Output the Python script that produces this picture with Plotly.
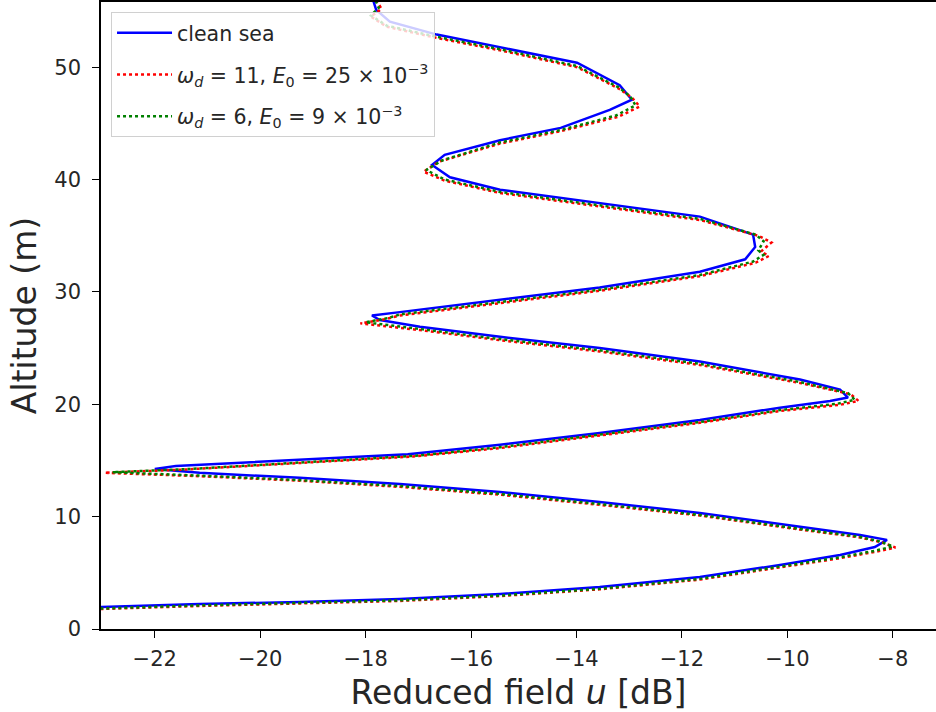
import plotly.graph_objects as go

# Altitude (m) and reduced field u (dB)
alt_clean = [1.75, 1.96, 2.23, 2.40, 2.67, 3.12, 3.74, 4.63, 5.70, 6.59, 7.30, 7.93,
             8.37, 9.08, 10.33, 11.31, 12.20, 12.91, 13.45, 13.90, 14.25, 14.50,
             14.80, 15.15, 15.55, 16.40, 17.45, 18.60, 19.70, 20.30, 20.60, 21.30, 22.20,
             23.80, 25.00, 26.00, 26.90, 27.50, 27.90, 28.20, 29.30, 30.40, 31.80,
             32.90, 34.00, 35.10, 36.70, 37.90, 39.10, 40.20, 41.30, 42.20, 43.50,
             44.60, 46.20, 47.10, 48.40, 50.40, 51.80, 52.90, 54.05, 55.10, 56.00]
u_clean = [-23.60, -23.02, -21.15, -19.25, -17.35, -15.45, -13.56, -11.66, -10.14, -9.00, -8.34, -8.11,
           -8.62, -9.76, -11.66, -13.56, -15.45, -17.35, -19.25, -21.15, -22.00, -21.60,
           -20.40, -18.90, -17.20, -15.45, -13.56, -11.66, -10.14, -9.19, -8.85, -9.00, -9.76,
           -11.66, -13.56, -15.45, -16.97, -17.73, -17.88, -17.35, -15.45, -13.56, -11.66,
           -10.80, -10.61, -10.65, -11.66, -13.56, -15.45, -16.40, -16.74, -16.50, -15.45,
           -14.30, -13.37, -12.95, -13.18, -13.99, -15.45, -16.65, -17.54, -17.80, -17.86]

alt_w11 = [1.60, 1.78, 2.05, 2.25, 2.50, 2.93, 3.53, 4.40, 5.45, 6.30, 6.90, 7.25,
           7.70, 8.15, 8.85, 10.10, 11.05, 11.95, 12.65, 13.20, 13.60, 13.90,
           14.20, 14.60, 15.00, 15.35, 16.10, 17.20, 18.35, 19.40, 19.95, 20.30, 20.90,
           21.90, 23.50, 24.70, 25.70, 26.60, 27.20, 27.60, 27.90, 29.00, 30.10,
           31.40, 32.60, 33.20, 33.60, 34.40, 35.00, 36.40, 37.60, 38.80, 39.90,
           40.70, 41.60, 43.20, 44.30, 45.60, 46.50, 47.30, 48.10, 50.00, 51.50,
           52.60, 53.60, 54.50, 55.20, 56.00]
u_w11 = [-23.60, -23.02, -21.15, -19.25, -17.35, -15.45, -13.56, -11.66, -10.14, -9.00, -8.30, -7.95,
         -8.20, -8.62, -9.76, -11.66, -13.56, -15.45, -17.35, -19.25, -21.15, -22.95,
         -21.40, -19.90, -18.40, -17.10, -15.45, -13.56, -11.66, -10.14, -9.00, -8.65, -8.80,
         -9.76, -11.66, -13.56, -15.45, -16.97, -18.10, -17.60, -17.35, -15.45, -13.56,
         -11.66, -10.60, -10.35, -10.50, -10.30, -10.55, -11.66, -13.56, -15.45, -16.50,
         -16.90, -16.60, -15.45, -14.30, -13.20, -12.80, -12.95, -13.20, -13.99, -15.45,
         -16.65, -17.60, -17.90, -17.70, -17.80]

alt_w6 = [1.62, 1.82, 2.10, 2.30, 2.55, 2.98, 3.58, 4.46, 5.52, 6.38, 6.98, 7.35,
          7.80, 8.22, 8.92, 10.15, 11.12, 12.02, 12.72, 13.25, 13.65, 13.95,
          14.25, 14.65, 15.05, 15.42, 16.18, 17.28, 18.42, 19.48, 20.05, 20.40, 21.00,
          22.00, 23.60, 24.80, 25.80, 26.70, 27.30, 27.70, 28.00, 29.10, 30.20,
          31.50, 32.70, 33.30, 33.70, 34.50, 35.10, 36.50, 37.70, 38.90, 40.00,
          40.85, 41.70, 43.30, 44.40, 45.70, 46.60, 47.40, 48.20, 50.10, 51.60,
          52.70, 53.70, 54.60, 55.30, 56.00]
u_w6 = [-23.60, -23.02, -21.15, -19.25, -17.35, -15.45, -13.56, -11.66, -10.14, -9.00, -8.32, -8.00,
        -8.25, -8.65, -9.78, -11.66, -13.56, -15.45, -17.35, -19.25, -21.15, -22.80,
        -21.30, -19.80, -18.30, -17.05, -15.45, -13.56, -11.66, -10.14, -9.05, -8.72, -8.85,
        -9.78, -11.66, -13.56, -15.45, -16.97, -18.00, -17.55, -17.35, -15.45, -13.56,
        -11.66, -10.65, -10.45, -10.55, -10.45, -10.60, -11.66, -13.56, -15.45, -16.50,
        -16.85, -16.55, -15.45, -14.30, -13.25, -12.88, -12.98, -13.20, -13.99, -15.45,
        -16.65, -17.60, -17.90, -17.75, -17.82]

x_ticks = [-22, -20, -18, -16, -14, -12, -10, -8]
y_ticks = [0, 10, 20, 30, 40, 50]

fig = go.Figure()
fig.add_trace(go.Scatter(x=u_clean, y=alt_clean, mode="lines", name="clean sea",
                         legendgroup="a",
                         line=dict(color="#0000ff", width=2.5)))
fig.add_trace(go.Scatter(x=u_w11, y=alt_w11, mode="lines",
                         name="<i>ω<sub>d</sub></i> = 11, <i>E</i><sub>0</sub> = 25 × 10<sup>−3</sup>",
                         legendgroup="b",
                         line=dict(color="#ff0000", width=2.5, dash="dot")))
fig.add_trace(go.Scatter(x=u_w6, y=alt_w6, mode="lines",
                         name="<i>ω<sub>d</sub></i> = 6, <i>E</i><sub>0</sub> = 9 × 10<sup>−3</sup>",
                         legendgroup="c",
                         line=dict(color="#008000", width=2.5, dash="dot")))

fig.update_layout(
    width=936, height=712,
    margin=dict(l=101, r=0, t=2, b=83),
    paper_bgcolor="white", plot_bgcolor="white",
    font=dict(family="DejaVu Sans", color="#262626", size=21),
    showlegend=True,
    legend=dict(x=0.012, y=0.984, xanchor="left", yanchor="top",
                bgcolor="rgba(255,255,255,0.8)", bordercolor="#d0d0d0", borderwidth=1,
                font=dict(size=20.5, color="#262626"), traceorder="grouped",
                tracegroupgap=12, itemwidth=55),
    xaxis=dict(range=[-23.02, -7.18], tickvals=x_ticks, ticks="outside", ticklen=7,
               tickcolor="black", showline=True, linecolor="black", linewidth=1.5,
               mirror=True, showgrid=False, zeroline=False, automargin=False,
               tickfont=dict(size=21), ticklabelstandoff=3,
               title=dict(text="Reduced field <i>u</i> [dB]", font=dict(size=33), standoff=14)),
    yaxis=dict(range=[0, 55.8], tickvals=y_ticks, ticks="outside", ticklen=7,
               tickcolor="black", showline=True, linecolor="black", linewidth=1.5,
               mirror=False, showgrid=False, zeroline=False, automargin=False,
               tickfont=dict(size=21), ticklabelstandoff=7,
               title=dict(text="Altitude (m)", font=dict(size=33), standoff=8)),
)

fig.write_html("out.html", config={"displayModeBar": False},
               post_script="document.body.style.margin='0';")
